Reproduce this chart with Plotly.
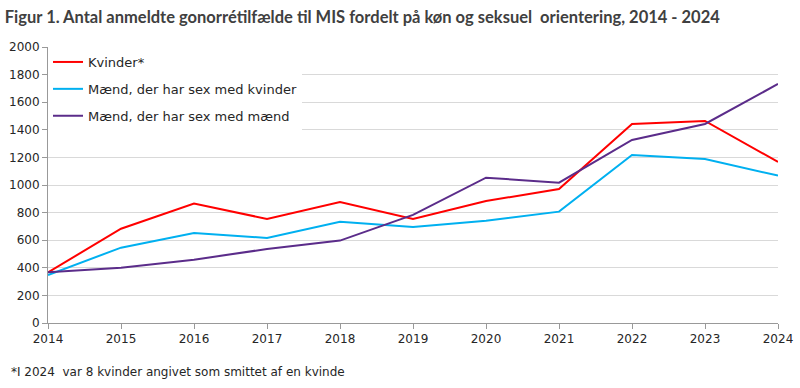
import plotly.graph_objects as go

years = [2014, 2015, 2016, 2017, 2018, 2019, 2020, 2021, 2022, 2023, 2024]
kvinder = [367, 683, 865, 754, 877, 754, 884, 971, 1442, 1464, 1167]
maend_kvinder = [348, 546, 652, 616, 734, 696, 741, 807, 1217, 1188, 1068]
maend_maend = [367, 401, 459, 536, 597, 783, 1053, 1017, 1326, 1442, 1732]

names = ["Kvinder*", "Mænd, der har sex med kvinder", "Mænd, der har sex med mænd"]
colors = ["#FF0000", "#00B0F0", "#5B2C8A"]
series = [kvinder, maend_kvinder, maend_maend]

FONT = "DejaVu Sans"
TITLE_FONT = "Lato"

fig = go.Figure()
for i, (n, c, s) in enumerate(zip(names, colors, series)):
    fig.add_trace(go.Scatter(x=years, y=s, mode="lines", name=n,
                             legendgroup=f"g{i}",
                             line=dict(color=c, width=2)))

fig.update_layout(
    width=800, height=388,
    margin=dict(l=48, r=22, t=47, b=65),
    paper_bgcolor="white", plot_bgcolor="white",
    font=dict(family=FONT, size=12, color="#262626"),
    title=dict(text="<b>Figur 1. Antal anmeldte gonorrétilfælde til MIS fordelt på køn og seksuel  orientering, 2014 - 2024</b>",
               x=0.006, xanchor="left", y=0.955, yanchor="middle",
               font=dict(family=TITLE_FONT, size=16.5, color="#404040")),
    showlegend=True,
    legend=dict(x=0.0, y=1.0, xanchor="left", yanchor="top",
                bgcolor="white", borderwidth=0,
                font=dict(family=FONT, size=13, color="#262626"),
                tracegroupgap=7, itemwidth=30),
    xaxis=dict(range=[2014, 2024], tickmode="array", tickvals=years,
               ticktext=[str(y) for y in years], automargin=False,
               showgrid=False, showline=True, linecolor="#999999", linewidth=1,
               ticks="outside", ticklen=5, tickcolor="#999999",
               tickfont=dict(size=12, color="#262626"), zeroline=False),
    yaxis=dict(range=[0, 2000], tickmode="array", automargin=False,
               tickvals=list(range(0, 2001, 200)),
               showgrid=True, gridcolor="#D9D9D9", gridwidth=1,
               showline=True, linecolor="#999999", linewidth=1,
               ticks="outside", ticklen=5, tickcolor="#999999",
               tickfont=dict(size=12, color="#262626"), zeroline=False),
)

fig.add_annotation(text="*I 2024  var 8 kvinder angivet som smittet af en kvinde",
                   xref="paper", yref="paper", x=-0.053, y=-0.145,
                   xanchor="left", yanchor="top", showarrow=False,
                   font=dict(family=FONT, size=12, color="#262626"))

fig.write_html("out.html", config={"displayModeBar": False},
               post_script="document.body.style.margin='0px';")
